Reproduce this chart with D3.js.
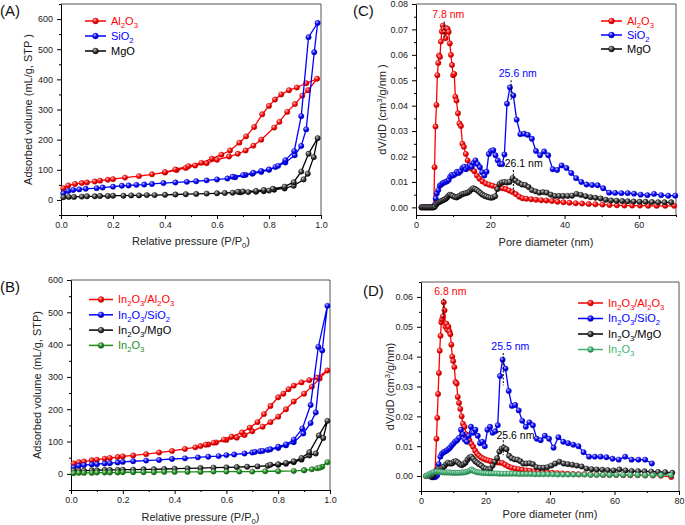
<!DOCTYPE html>
<html>
<head>
<meta charset="utf-8">
<script src="https://cdn.jsdelivr.net/npm/d3@7"></script>
<style>
  body { margin: 0; background: #fff; }
  svg { display: block; font-family: "Liberation Sans", Arial, sans-serif; }
</style>
</head>
<body>
<svg id="chart" width="685" height="525"></svg>
<script>
// ---- data ----

// (A) isotherms, [P/P0, volume], adsorption then desorption branch
const isoAl2O3 = [[0.009,39],[0.028,48],[0.054,53],[0.08,56],[0.1,58],[0.13,61],[0.15,64],[0.18,67],[0.2,69],[0.246,74],[0.3,79],[0.35,85],[0.4,91],[0.445,99],[0.48,106],[0.516,114],[0.56,122],[0.6,133],[0.646,144],[0.68,153],[0.71,164],[0.74,180],[0.77,200],[0.82,240],[0.84,259],[0.87,292],[0.9,318],[0.928,346],[0.95,364],[0.985,402],
  [0.943,387],[0.907,373],[0.877,364],[0.847,350],[0.823,333],[0.8,312],[0.774,284],[0.743,242],[0.712,211],[0.686,190],[0.65,164],[0.617,150],[0.58,137],[0.54,123],[0.49,112],[0.44,101],[0.4,92]];
const isoSiO2 = [[0.009,22],[0.028,30],[0.047,33],[0.07,35],[0.095,37],[0.137,39],[0.16,41],[0.2,44],[0.234,47],[0.26,48],[0.29,50],[0.32,51],[0.35,53],[0.394,56],[0.44,58],[0.484,60],[0.52,62],[0.56,65],[0.6,68],[0.64,71],[0.67,75],[0.71,83],[0.736,87],[0.77,93],[0.8,100],[0.825,109],[0.863,124],[0.899,148],[0.924,179],[0.943,234],[0.974,490],[0.987,587],
  [0.952,540],[0.924,278],[0.897,162],[0.863,132],[0.835,113],[0.8,101],[0.77,96],[0.74,90],[0.7,82],[0.66,77]];
const isoMgO = [[0.009,9],[0.03,10],[0.05,10],[0.08,11],[0.1,12],[0.13,12],[0.15,13],[0.18,13],[0.2,14],[0.24,14],[0.27,15],[0.3,15],[0.33,16],[0.36,16],[0.4,17],[0.44,18],[0.48,19],[0.52,20],[0.56,21],[0.6,22],[0.63,23],[0.66,24],[0.69,25],[0.72,26],[0.75,27],[0.78,29],[0.8,31],[0.82,34],[0.86,38],[0.895,47],[0.933,68],[0.949,87],[0.972,142],[0.987,205],
  [0.952,153],[0.924,94],[0.895,59],[0.86,44],[0.815,37],[0.78,33],[0.75,30],[0.7,28],[0.68,27]];

// (B) isotherms
const isoInAl = [[0.01,32],[0.03,36],[0.05,38],[0.08,42],[0.1,44],[0.13,47],[0.15,49],[0.18,52],[0.2,54],[0.24,57],[0.29,61],[0.34,66],[0.39,71],[0.44,77],[0.48,82],[0.5,86],[0.53,91],[0.56,97],[0.6,105],[0.64,112],[0.67,120],[0.7,132],[0.74,146],[0.77,160],[0.8,177],[0.83,200],[0.86,224],[0.9,248],[0.93,270],[0.96,295],[0.99,320],
  [0.95,298],[0.92,290],[0.89,283],[0.86,273],[0.84,262],[0.82,248],[0.8,237],[0.77,210],[0.745,185],[0.72,160],[0.69,143],[0.66,128],[0.62,115],[0.59,106],[0.55,96],[0.52,90]];
const isoInSi = [[0.01,20],[0.03,25],[0.05,27],[0.08,29],[0.1,30],[0.13,32],[0.15,33],[0.18,35],[0.2,37],[0.24,39],[0.29,41],[0.34,43],[0.39,46],[0.44,48],[0.49,51],[0.53,53],[0.57,55],[0.6,58],[0.63,60],[0.67,63],[0.7,66],[0.73,70],[0.76,74],[0.8,80],[0.83,88],[0.86,98],[0.897,125],[0.925,157],[0.945,190],[0.97,382],[0.99,520],
  [0.955,393],[0.925,213],[0.893,140],[0.86,106],[0.83,91],[0.8,84],[0.77,76],[0.74,71],[0.71,68]];
const isoInMg = [[0.01,10],[0.03,10],[0.05,10],[0.08,11],[0.1,11],[0.13,12],[0.15,12],[0.18,12],[0.2,13],[0.24,13],[0.28,14],[0.32,14],[0.36,15],[0.4,16],[0.45,17],[0.5,18],[0.55,19],[0.6,20],[0.64,21],[0.68,22],[0.72,23],[0.76,25],[0.8,28],[0.83,31],[0.86,36],[0.89,44],[0.92,57],[0.945,63],[0.974,111],[0.99,164],
  [0.957,119],[0.92,67],[0.89,49],[0.86,39],[0.83,34],[0.8,30],[0.77,28]];
const isoIn2O3 = [[0.01,2],[0.03,3],[0.05,3],[0.08,3],[0.1,4],[0.13,4],[0.15,4],[0.18,4],[0.2,5],[0.24,5],[0.28,5],[0.32,5],[0.36,6],[0.4,6],[0.45,6],[0.5,6],[0.55,7],[0.6,7],[0.65,7],[0.7,7],[0.75,8],[0.8,8],[0.86,9],[0.9,11],[0.95,17],[0.97,22],[0.99,36],
  [0.96,19],[0.93,14],[0.9,11]];

// (C) pore size distributions, [diameter nm, dV/dD]
const psdAl2O3 = [[1.5,0],[2.0,0],[2.5,0],[3.0,0],[3.5,0],[4.0,0],[4.5,0],[4.8,0.0002],[5.0,0.0158],[5.25,0.0318],[5.5,0.0403],[5.75,0.052],[6.0,0.0568],[6.2,0.0598],[6.45,0.0592],[6.7,0.0652],[6.95,0.0692],[7.2,0.0715],[7.45,0.0702],[7.7,0.069],[7.95,0.0665],[8.2,0.0705],[8.5,0.0702],[8.8,0.069],[9.1,0.0645],[9.4,0.06],[9.7,0.056],[10.0,0.052],[10.3,0.0525],[10.6,0.0435],[10.9,0.042],[11.3,0.037],[11.7,0.033],[12.1,0.032],[12.5,0.025],[12.9,0.0238],[13.4,0.021],[13.9,0.0185],[14.4,0.0165],[15.0,0.0152],[15.7,0.0142],[16.4,0.0125],[17.1,0.0113],[17.9,0.0102],[18.8,0.0094],[19.7,0.0089],[20.6,0.0085],[21.5,0.0081],[22.4,0.0078],[23.3,0.0075],[24.2,0.0072],[25.1,0.0066],[26.0,0.006],[26.9,0.0052],[27.8,0.0042],[28.7,0.0036],[29.7,0.0034],[31.0,0.0032],[32.3,0.003],[33.7,0.0028],[35.1,0.0027],[36.6,0.0025],[38.1,0.0022],[39.7,0.002],[41.3,0.0018],[43.0,0.0016],[44.7,0.0015],[46.5,0.0013],[48.3,0.0012],[50.2,0.0011],[52.1,0.0009],[54.1,0.0008],[56.1,0.0007],[58.2,0.0007],[60.3,0.0007],[62.5,0.0006],[64.8,0.0006],[67.1,0.0006],[69.5,0.0006]];
const psdSiO2 = [[1.5,0],[2.5,0],[3.5,0],[4.5,0],[5.0,0.001],[5.3,0.0035],[5.6,0.0055],[6.0,0.0068],[6.4,0.0085],[6.8,0.009],[7.2,0.0095],[7.6,0.0098],[8.0,0.01],[8.4,0.0103],[8.8,0.0108],[9.2,0.012],[9.6,0.0128],[10.0,0.0125],[10.5,0.013],[11.0,0.014],[11.5,0.0135],[12.0,0.0142],[12.5,0.0155],[13.0,0.016],[13.5,0.015],[14.0,0.0158],[14.5,0.0165],[15.0,0.016],[15.5,0.0175],[16.0,0.0185],[16.6,0.017],[17.2,0.0158],[17.8,0.0138],[18.4,0.0125],[19.0,0.014],[19.6,0.021],[20.2,0.0222],[20.8,0.0225],[21.4,0.0205],[22.0,0.0185],[22.6,0.017],[23.2,0.017],[23.8,0.0208],[24.5,0.0408],[25.3,0.0472],[26.2,0.044],[27.1,0.0345],[28.1,0.0288],[29.1,0.029],[30.1,0.0285],[31.2,0.027],[32.3,0.0222],[33.4,0.0205],[34.5,0.022],[35.6,0.0205],[36.8,0.015],[38.0,0.0147],[39.2,0.0165],[40.5,0.0155],[41.8,0.0135],[43.1,0.0115],[44.5,0.01],[45.9,0.009],[47.4,0.0088],[48.9,0.0087],[50.4,0.0075],[52.0,0.0058],[53.6,0.0057],[55.3,0.0056],[57.0,0.0056],[58.7,0.0054],[60.5,0.005],[62.3,0.0048],[64.1,0.0053],[66.0,0.0048],[67.9,0.0046],[69.8,0.0046]];
const psdMgO = [[1.5,0],[1.8,0],[2.1,0],[2.4,0],[2.7,0],[3.0,0],[3.3,0],[3.6,0],[3.9,0],[4.2,0],[4.5,0],[4.8,0],[5.1,0.0003],[5.5,0.0012],[5.9,0.0018],[6.3,0.0021],[6.7,0.0024],[7.1,0.0027],[7.5,0.003],[7.9,0.0033],[8.3,0.0038],[8.7,0.0045],[9.1,0.005],[9.5,0.0048],[9.9,0.0045],[10.4,0.0041],[10.9,0.0039],[11.4,0.0043],[11.9,0.0047],[12.4,0.0052],[12.9,0.0054],[13.4,0.0056],[13.9,0.0058],[14.4,0.0063],[14.9,0.007],[15.4,0.0075],[15.9,0.0072],[16.4,0.0068],[16.9,0.0062],[17.4,0.0056],[17.9,0.005],[18.4,0.0046],[18.9,0.0043],[19.5,0.004],[20.1,0.0038],[20.7,0.0039],[21.3,0.0044],[21.9,0.0072],[22.5,0.0092],[23.1,0.0098],[23.8,0.01],[24.5,0.0098],[25.2,0.01],[26.0,0.0115],[26.8,0.0105],[27.6,0.0097],[28.5,0.009],[29.4,0.0088],[30.3,0.008],[31.2,0.0068],[32.2,0.0063],[33.2,0.0058],[34.2,0.006],[35.2,0.0058],[36.3,0.005],[37.4,0.0045],[38.5,0.0045],[39.6,0.0045],[40.8,0.0045],[42.0,0.0046],[43.2,0.0053],[44.4,0.0049],[45.7,0.0044],[47.0,0.004],[48.3,0.0038],[49.7,0.0035],[51.1,0.003],[52.5,0.0027],[54.0,0.0026],[55.5,0.0025],[57.0,0.0024],[58.6,0.0023],[60.2,0.0022],[61.8,0.0022],[63.5,0.0021],[65.2,0.002],[66.9,0.002],[68.7,0.002]];

// (D) pore size distributions
const psdInAl = [[1.5,0],[2.5,0],[3.5,0],[4.3,0],[4.8,0.0125],[5.05,0.0195],[5.3,0.0275],[5.55,0.0345],[5.8,0.042],[6.05,0.047],[6.3,0.0515],[6.55,0.0525],[6.8,0.0535],[7.05,0.0582],[7.3,0.0555],[7.6,0.05],[7.9,0.051],[8.2,0.049],[8.5,0.05],[8.8,0.0485],[9.1,0.0475],[9.4,0.044],[9.7,0.04],[10.0,0.0385],[10.35,0.0365],[10.7,0.0315],[11.05,0.031],[11.4,0.0265],[11.8,0.0245],[12.2,0.0225],[12.6,0.02],[13.0,0.0175],[13.5,0.0165],[14.0,0.014],[14.5,0.0128],[15.0,0.012],[15.6,0.0108],[16.2,0.0098],[16.8,0.0085],[17.4,0.0075],[18.0,0.0068],[18.7,0.0062],[19.4,0.0058],[20.1,0.0055],[20.9,0.0052],[21.7,0.005],[22.5,0.0048],[23.4,0.0046],[24.3,0.0045],[25.2,0.0044],[26.1,0.0038],[27.1,0.0032],[28.1,0.0028],[29.2,0.0025],[30.3,0.0023],[31.4,0.0021],[32.6,0.0019],[33.8,0.0018],[35.1,0.0016],[36.4,0.0015],[37.8,0.0013],[39.2,0.0012],[40.7,0.0011],[42.2,0.001],[43.8,0.0009],[45.4,0.0008],[47.1,0.0007],[48.8,0.0006],[50.6,0.0006],[52.5,0.0005],[54.4,0.0005],[56.4,0.0004],[58.4,0.0004],[60.5,0.0004],[62.7,0.0003],[64.9,0.0003],[67.2,0.0003],[69.5,0.0002],[71.9,0.0002],[74.4,0.0001],[77.6,-0.0003]];
const psdInSi = [[3.5,-0.0004],[4.0,-0.0004],[4.5,-0.0003],[5.0,0.0002],[5.5,0.004],[6.0,0.0065],[6.5,0.0075],[7.0,0.008],[7.5,0.0082],[8.0,0.0086],[8.5,0.009],[9.0,0.0095],[9.5,0.0102],[10.0,0.0108],[10.6,0.0115],[11.2,0.012],[11.8,0.0128],[12.4,0.0155],[13.0,0.014],[13.6,0.0122],[14.2,0.0115],[14.8,0.0135],[15.5,0.0165],[16.2,0.0145],[16.9,0.0155],[17.6,0.0135],[18.3,0.011],[19.0,0.0115],[19.8,0.01],[20.6,0.0155],[21.4,0.0165],[22.2,0.0145],[23.0,0.015],[23.8,0.017],[24.5,0.0335],[25.3,0.039],[26.2,0.036],[27.2,0.0285],[28.2,0.0235],[29.2,0.0238],[30.3,0.022],[31.4,0.0185],[32.5,0.0165],[33.6,0.018],[34.7,0.017],[35.9,0.0125],[37.1,0.012],[38.4,0.0135],[39.7,0.0125],[41.1,0.0095],[42.6,0.013],[44.1,0.0115],[45.6,0.011],[47.2,0.0105],[48.8,0.01],[50.4,0.008],[52.1,0.0065],[53.9,0.0065],[55.7,0.0065],[57.5,0.0063],[59.4,0.0058],[61.3,0.0055],[63.3,0.0065],[65.3,0.0055],[67.4,0.0055],[69.5,0.0055],[71.6,0.0042]];
const psdInMg = [[3.3,-0.0003],[3.8,0.0002],[4.3,0.001],[4.8,0.002],[5.4,0.0025],[6.0,0.0025],[6.6,0.0028],[7.2,0.0032],[7.8,0.004],[8.4,0.0045],[9.0,0.0042],[9.6,0.0042],[10.2,0.0048],[10.8,0.005],[11.4,0.0046],[12.0,0.004],[12.6,0.0036],[13.2,0.004],[13.8,0.0045],[14.4,0.0055],[15.0,0.0062],[15.6,0.0065],[16.2,0.0058],[16.8,0.005],[17.4,0.0045],[18.0,0.004],[18.7,0.0035],[19.4,0.0028],[20.1,0.0025],[20.8,0.0022],[21.5,0.0024],[22.2,0.0035],[22.9,0.0048],[23.6,0.006],[24.3,0.0082],[25.0,0.0092],[25.7,0.0095],[26.5,0.009],[27.3,0.0068],[28.1,0.006],[29.0,0.0056],[29.9,0.0055],[30.8,0.005],[31.7,0.0042],[32.7,0.0042],[33.7,0.0043],[34.7,0.004],[35.8,0.003],[36.9,0.0028],[38.0,0.0028],[39.2,0.003],[40.4,0.0035],[41.6,0.0042],[42.9,0.0048],[44.2,0.0042],[45.5,0.004],[46.9,0.0038],[48.3,0.0035],[49.8,0.0032],[51.3,0.0025],[52.9,0.0023],[54.5,0.0022],[56.2,0.0021],[57.9,0.002],[59.7,0.0019],[61.5,0.0022],[63.4,0.0019],[65.3,0.0017],[67.3,0.0016],[69.3,0.0016],[71.4,0.0015],[73.5,0.0014],[75.7,0.0013],[77.9,0.0011]];
const psdIn2O3 = [[1.5,0],[2.0,0.0003],[2.5,0.0006],[3.0,0.0009],[3.5,0.0011],[4.0,0.0013],[4.5,0.0014],[5.0,0.0015],[5.5,0.0014],[6.0,0.0014],[6.6,0.0013],[7.2,0.0012],[7.8,0.0012],[8.4,0.0012],[9.0,0.0012],[9.6,0.0011],[10.2,0.0011],[10.8,0.0011],[11.4,0.0011],[12.0,0.0011],[12.6,0.0012],[13.2,0.0012],[13.8,0.0013],[14.4,0.0015],[15.0,0.0018],[15.6,0.0022],[16.2,0.0018],[16.8,0.0015],[17.4,0.0013],[18.0,0.0012],[18.7,0.0011],[19.4,0.001],[20.1,0.001],[20.9,0.0009],[21.7,0.0009],[22.5,0.0009],[23.4,0.0009],[24.3,0.0008],[25.2,0.0008],[26.2,0.0008],[27.2,0.0008],[28.2,0.0008],[29.3,0.0008],[30.4,0.0007],[31.6,0.0007],[32.8,0.0007],[34.0,0.0007],[35.3,0.0006],[36.6,0.0006],[38.0,0.0006],[39.4,0.0006],[40.9,0.0006],[42.4,0.0005],[44.0,0.0005],[45.6,0.0005],[47.3,0.0005],[49.0,0.0005],[50.8,0.0005],[52.6,0.0004],[54.5,0.0004],[56.5,0.0004],[58.5,0.0004],[60.6,0.0004],[62.7,0.0004],[64.9,0.0004],[67.2,0.0004],[69.5,0.0003],[71.9,0.0003],[74.4,0.0003],[77.5,0.0003]];

// peak labels: dashed marker at x from y0 to y1, text centred at (tx, ty)
const peaksC = [
  { label: '7.8 nm', tone: 'red', x: 7.6, y0: 0.0731, y1: 0.0662, tx: 8.7, ty: 0.0746 },
  { label: '25.6 nm', tone: 'blue', x: 25.6, y0: 0.050, y1: 0.0423, tx: 27.4, ty: 0.0513 },
  { label: '26.1 nm', tone: 'black', x: 26.2, y0: 0.0147, y1: 0.0057, tx: 29.0, ty: 0.0157 }
];
const peaksD = [
  { label: '6.8 nm', tone: 'red', x: 6.95, y0: 0.0594, y1: 0.0524, tx: 9.1, ty: 0.0605 },
  { label: '25.5 nm', tone: 'blue', x: 25.5, y0: 0.0412, y1: 0.0304, tx: 27.7, ty: 0.0421 },
  { label: '25.6 nm', tone: 'black', x: 25.5, y0: 0.012, y1: 0.007, tx: 29.3, ty: 0.0124 }
];

// ticks
const pTicks = [0, 0.2, 0.4, 0.6, 0.8, 1.0];
const pMinor = [0.1, 0.3, 0.5, 0.7, 0.9];
const volTicksA = [0, 100, 200, 300, 400, 500, 600];
const volMinorA = [-50, 50, 150, 250, 350, 450, 550, 650];
const volTicksB = [0, 100, 200, 300, 400, 500, 600];
const volMinorB = [-50, 50, 150, 250, 350, 450, 550];
const dTicksC = [0, 20, 40, 60];
const dMinorC = [10, 30, 50, 70];
const psdTicksC = [0, 0.01, 0.02, 0.03, 0.04, 0.05, 0.06, 0.07, 0.08];
const psdMinorC = [0.005, 0.015, 0.025, 0.035, 0.045, 0.055, 0.065, 0.075];
const dTicksD = [0, 20, 40, 60, 80];
const dMinorD = [10, 30, 50, 70];
const psdTicksD = [0, 0.01, 0.02, 0.03, 0.04, 0.05, 0.06];
const psdMinorD = [-0.005, 0.005, 0.015, 0.025, 0.035, 0.045, 0.055, 0.065];

// ---- drawing ----
const tones = { red: '#ff0000', blue: '#0000ff', black: '#000000', green: '#1e8b1e', mint: '#3cb371' };
const svg = d3.select('#chart');
const defs = svg.append('defs');

// shaded "ball" markers
Object.entries(tones).forEach(([k, c]) => {
  const base = d3.color(c);
  const hi = k === 'black' ? '#c8c8c8' : d3.interpolateRgb(c, '#fff')(0.75);
  const mid = k === 'black' ? '#3a3a3a' : c;
  const g = defs.append('radialGradient').attr('id', 'ball-' + k)
    .attr('cx', '0.38').attr('cy', '0.35').attr('r', '0.7')
    .attr('fx', '0.35').attr('fy', '0.3');
  g.append('stop').attr('offset', '0').attr('stop-color', hi);
  g.append('stop').attr('offset', '0.55').attr('stop-color', mid);
  g.append('stop').attr('offset', '1').attr('stop-color', base.darker(1.2).formatHex());
});

function rich(sel, parts, fs) {
  let shift = 0;
  parts.forEach(([t, k]) => {
    const target = k === 'sub' ? fs * 0.28 : k === 'sup' ? -fs * 0.38 : 0;
    sel.append('tspan')
      .attr('dy', target - shift)
      .attr('font-size', k ? fs * 0.7 : fs)
      .text(t);
    shift = target;
  });
}
const chem = s => s.split(/(\d+)/).filter(t => t).map(t => [t, /^\d+$/.test(t) ? 'sub' : '']);

function drawPanel(p) {
  const x = d3.scaleLinear().domain(p.xDomain).range([p.left, p.right]);
  const y = d3.scaleLinear().domain(p.yDomain).range([p.bottom, p.top]);
  const g = svg.append('g');

  g.append('path')
    .attr('d', `M${p.left},${p.top}H${p.right}V${p.bottom}`)
    .attr('fill', 'none').attr('stroke', '#555').attr('stroke-width', 1);

  const styleAxis = a => {
    a.select('.domain').attr('stroke', '#000').attr('stroke-width', 1);
    a.selectAll('.tick line').attr('stroke', '#000');
    a.selectAll('.tick text').attr('fill', '#222').attr('font-size', p.tickFs)
      .attr('font-family', '"Liberation Sans", Arial, sans-serif');
  };

  g.append('g').attr('transform', `translate(0,${p.bottom})`)
    .call(d3.axisBottom(x).tickValues(p.xMinor).tickFormat('').tickSize(2).tickSizeOuter(0))
    .call(a => a.select('.domain').remove())
    .call(a => a.selectAll('line').attr('stroke', '#000'));
  g.append('g').attr('transform', `translate(0,${p.bottom})`)
    .call(d3.axisBottom(x).tickValues(p.xTicks).tickFormat(d3.format(p.xFmt)).tickSize(4).tickSizeOuter(0).tickPadding(3))
    .call(styleAxis);

  g.append('g').attr('transform', `translate(${p.left},0)`)
    .call(d3.axisLeft(y).tickValues(p.yMinor).tickFormat('').tickSize(2).tickSizeOuter(0))
    .call(a => a.select('.domain').remove())
    .call(a => a.selectAll('line').attr('stroke', '#000'));
  g.append('g').attr('transform', `translate(${p.left},0)`)
    .call(d3.axisLeft(y).tickValues(p.yTicks).tickFormat(d3.format(p.yFmt)).tickSize(4).tickSizeOuter(0).tickPadding(4))
    .call(styleAxis);

  // axis titles
  const xt = g.append('text').attr('x', (p.left + p.right) / 2).attr('y', p.xTitleY)
    .attr('text-anchor', 'middle').attr('fill', '#222');
  rich(xt, p.xTitle, 11);
  const yt = g.append('text')
    .attr('transform', `translate(${p.yTitleX},${(p.top + p.bottom) / 2}) rotate(-90)`)
    .attr('text-anchor', 'middle').attr('fill', '#222');
  rich(yt, p.yTitle, 11);

  g.append('text').attr('x', p.tagX).attr('y', p.tagY).attr('font-size', 15)
    .attr('fill', '#111').text(p.tag);

  // series
  const line = d3.line().x(d => x(d[0])).y(d => y(d[1]));
  p.series.forEach(s => {
    g.append('path').datum(s.data).attr('d', line)
      .attr('fill', 'none').attr('stroke', tones[s.tone]).attr('stroke-width', 1.3);
    g.append('g').selectAll('circle').data(s.data).join('circle')
      .attr('cx', d => x(d[0])).attr('cy', d => y(d[1])).attr('r', 2.7)
      .attr('fill', `url(#ball-${s.tone})`)
      .attr('stroke', d3.color(tones[s.tone]).darker(1).formatHex()).attr('stroke-width', 0.4);
  });

  // peak labels
  (p.peaks || []).forEach(k => {
    g.append('line').attr('x1', x(k.x)).attr('x2', x(k.x)).attr('y1', y(k.y0)).attr('y2', y(k.y1))
      .attr('stroke', '#000').attr('stroke-width', 1).attr('stroke-dasharray', '2,1.5');
    g.append('text').attr('x', x(k.tx)).attr('y', y(k.ty)).attr('text-anchor', 'middle')
      .attr('font-size', 10.5).attr('fill', tones[k.tone]).text(k.label);
  });

  // legend
  p.series.forEach((s, i) => {
    const ly = p.legend.y + i * p.legend.dy;
    const c = tones[s.tone];
    g.append('line').attr('x1', p.legend.x0).attr('x2', p.legend.x1).attr('y1', ly).attr('y2', ly)
      .attr('stroke', c).attr('stroke-width', 1.5);
    g.append('circle').attr('cx', (p.legend.x0 + p.legend.x1) / 2).attr('cy', ly).attr('r', 2.9)
      .attr('fill', `url(#ball-${s.tone})`).attr('stroke', d3.color(c).darker(1).formatHex()).attr('stroke-width', 0.4);
    const t = g.append('text').attr('x', p.legend.x1 + 5).attr('y', ly + 3.8).attr('fill', c);
    rich(t, chem(s.name), 11);
  });
}

const pressureTitle = [['Relative pressure (P/P', ''], ['0', 'sub'], [')', '']];
const diamTitle = [['Pore diameter (nm)', '']];

drawPanel({
  tag: '(A)', tagX: 0, tagY: 16,
  left: 61, right: 321, top: 4, bottom: 215,
  xDomain: [0, 1], yDomain: [-50, 650],
  xTicks: pTicks, xMinor: pMinor, xFmt: '.1f',
  yTicks: volTicksA, yMinor: volMinorA, yFmt: 'd', tickFs: 9,
  xTitle: pressureTitle, xTitleY: 245,
  yTitle: [['Adsorbed volume (mL/g, STP )', '']], yTitleX: 32,
  legend: { x0: 85, x1: 106, y: 21, dy: 15 },
  series: [
    { name: 'Al2O3', tone: 'red', data: isoAl2O3 },
    { name: 'SiO2', tone: 'blue', data: isoSiO2 },
    { name: 'MgO', tone: 'black', data: isoMgO }
  ]
});

drawPanel({
  tag: '(B)', tagX: 0, tagY: 292,
  left: 71, right: 330, top: 280, bottom: 490,
  xDomain: [0, 1], yDomain: [-50, 600],
  xTicks: pTicks, xMinor: pMinor, xFmt: '.1f',
  yTicks: volTicksB, yMinor: volMinorB, yFmt: 'd', tickFs: 9,
  xTitle: pressureTitle, xTitleY: 521,
  yTitle: [['Adsorbed volume (mL/g, STP)', '']], yTitleX: 41,
  legend: { x0: 89, x1: 113, y: 299.5, dy: 15.3 },
  series: [
    { name: 'In2O3/Al2O3', tone: 'red', data: isoInAl },
    { name: 'In2O3/SiO2', tone: 'blue', data: isoInSi },
    { name: 'In2O3/MgO', tone: 'black', data: isoInMg },
    { name: 'In2O3', tone: 'green', data: isoIn2O3 }
  ]
});

drawPanel({
  tag: '(C)', tagX: 353, tagY: 16,
  left: 416, right: 676, top: 4, bottom: 215,
  xDomain: [0, 70], yDomain: [-0.003, 0.08],
  xTicks: dTicksC, xMinor: dMinorC, xFmt: 'd',
  yTicks: psdTicksC, yMinor: psdMinorC, yFmt: '.2f', tickFs: 9,
  xTitle: diamTitle, xTitleY: 246,
  yTitle: [['dV/dD (cm', ''], ['3', 'sup'], ['/g/nm )', '']], yTitleX: 386,
  legend: { x0: 601, x1: 622, y: 21, dy: 14 },
  peaks: peaksC,
  series: [
    { name: 'Al2O3', tone: 'red', data: psdAl2O3 },
    { name: 'SiO2', tone: 'blue', data: psdSiO2 },
    { name: 'MgO', tone: 'black', data: psdMgO }
  ]
});

drawPanel({
  tag: '(D)', tagX: 363, tagY: 296,
  left: 421, right: 679, top: 282, bottom: 491,
  xDomain: [0, 80], yDomain: [-0.005, 0.065],
  xTicks: dTicksD, xMinor: dMinorD, xFmt: 'd',
  yTicks: psdTicksD, yMinor: psdMinorD, yFmt: '.2f', tickFs: 9,
  xTitle: diamTitle, xTitleY: 518,
  yTitle: [['dV/dD (cm', ''], ['3', 'sup'], ['/g/nm)', '']], yTitleX: 394,
  legend: { x0: 578, x1: 603, y: 303, dy: 15.5 },
  peaks: peaksD,
  series: [
    { name: 'In2O3/Al2O3', tone: 'red', data: psdInAl },
    { name: 'In2O3/SiO2', tone: 'blue', data: psdInSi },
    { name: 'In2O3/MgO', tone: 'black', data: psdInMg },
    { name: 'In2O3', tone: 'mint', data: psdIn2O3 }
  ]
});
</script>
</body>
</html>
